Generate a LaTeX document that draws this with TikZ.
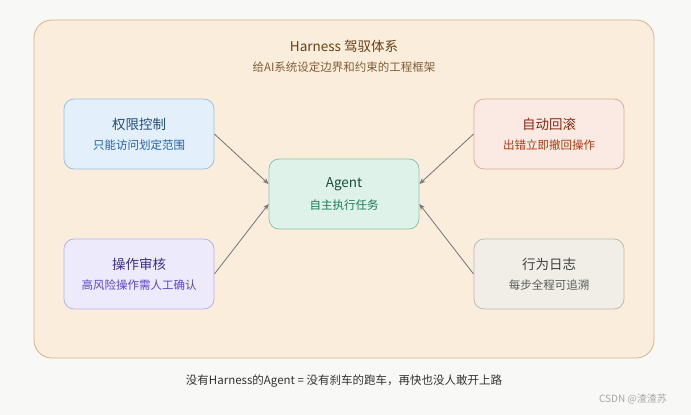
\documentclass[tikz,border=0pt]{standalone}
\usepackage{fontspec}
\setmainfont{Noto Sans CJK SC}
\usetikzlibrary{arrows.meta}
\definecolor{pagebg}{HTML}{F8F8F6}
\definecolor{framefill}{HTML}{FAEDDC}
\definecolor{frameline}{HTML}{D2B48E}
\definecolor{titlecol}{HTML}{6B3F12}
\tikzset{x=1pt, y=-1pt, -{Stealth[length=6pt, width=5pt, open]},
  box/.style = {draw, rounded corners=10pt, minimum width=150pt, minimum height=70pt, align=center, line width=0.8pt, inner sep=0pt},
  link/.style = {draw=black!55, line width=0.8pt}}
\newcommand{\boxhead}[2]{{\fontsize{13.5}{16}\selectfont\color[HTML]{#1}#2}}
\newcommand{\boxnote}[2]{{\fontsize{11.5}{13}\selectfont\color[HTML]{#1}#2}}

\begin{document}
\begin{tikzpicture}
	
	\useasboundingbox[fill = pagebg] (0, 0) rectangle (691, 415);
	\draw[-, fill = framefill, draw = frameline, rounded corners = 18pt, line width = 0.8pt] (34, 20) rectangle (654, 358);
	
	\node[text = titlecol, font = \fontsize{13.5}{15}\selectfont] (title) at (344, 46) {Harness 驾驭体系};
	\node[text = titlecol!85, font = \fontsize{11.5}{13}\selectfont] (sub) at (344, 67) {给AI系统设定边界和约束的工程框架};
	
	\node[box, fill = {rgb,255:red,227;green,239;blue,251}, draw = {rgb,255:red,158;green,192;blue,228}] (perm) at (139, 134) {\boxhead{1F4E7A}{权限控制}\\[8pt]\boxnote{1F62A8}{只能访问划定范围}};
	\node[box, fill = {rgb,255:red,250;green,234;blue,227}, draw = {rgb,255:red,226;green,170;blue,152}] (roll) at (549, 134) {\boxhead{8A2A10}{自动回滚}\\[8pt]\boxnote{B03A12}{出错立即撤回操作}};
	\node[box, fill = {rgb,255:red,223;green,242;blue,234}, draw = {rgb,255:red,141;green,197;blue,174}] (agent) at (344, 194) {\boxhead{14503C}{Agent}\\[8pt]\boxnote{1B7A55}{自主执行任务}};
	\node[box, fill = {rgb,255:red,237;green,235;blue,251}, draw = {rgb,255:red,185;green,178;blue,236}] (audit) at (139, 274) {\boxhead{3C2E8A}{操作审核}\\[8pt]\boxnote{5A45C8}{高风险操作需人工确认}};
	\node[box, fill = {rgb,255:red,241;green,238;blue,231}, draw = {rgb,255:red,192;green,188;blue,179}] (log) at (549, 274) {\boxhead{404040}{行为日志}\\[8pt]\boxnote{595959}{每步全程可追溯}};
	
	\path[link] (perm.east) -- ([yshift = 10pt] agent.west);
	\path[link] (roll.west) -- ([yshift = 10pt] agent.east);
	\path[link] (audit.east) -- ([yshift = -10pt] agent.west);
	\path[link] (log.west) -- ([yshift = -10pt] agent.east);
	
	\node[text = black!80, font = \fontsize{11.5}{13}\selectfont] (note) at (344, 381) {没有Harness的Agent = 没有刹车的跑车，再快也没人敢开上路};
	\node[text = black!35, font = \fontsize{10}{11}\selectfont] (mark) at (633, 399) {CSDN @渣渣苏};
	
\end{tikzpicture}
\end{document}
